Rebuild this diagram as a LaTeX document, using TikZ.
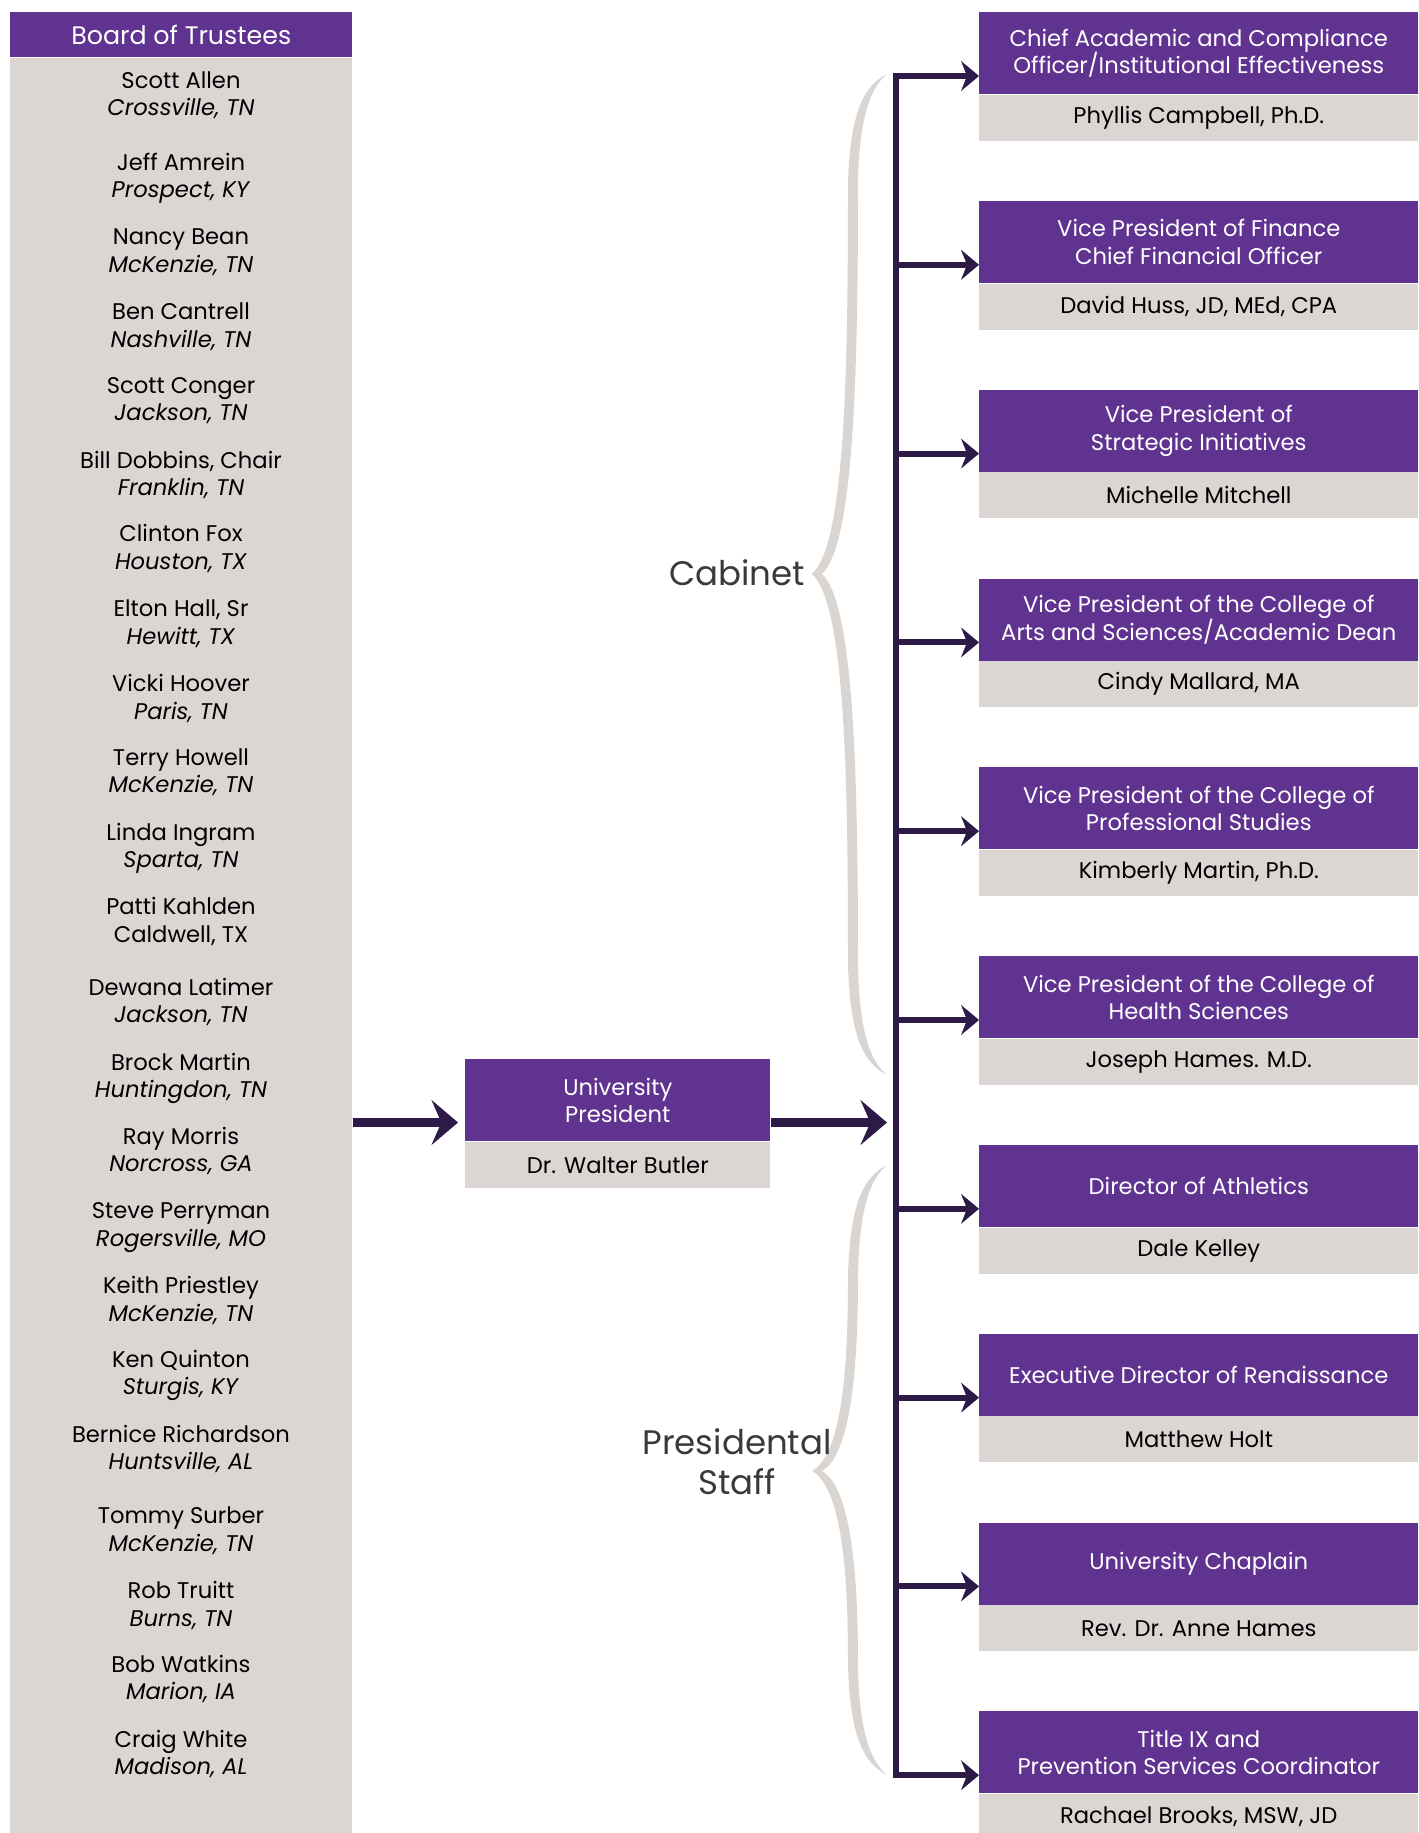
\documentclass[tikz,border=0pt]{standalone}
\usepackage{fontspec}
\setmainfont{Poppins}
\usetikzlibrary{arrows.meta,positioning}
\definecolor{trpurple}{RGB}{97,51,145}
\definecolor{trgray}{RGB}{219,214,211}
\definecolor{trdark}{RGB}{46,26,71}
\definecolor{trbrace}{RGB}{218,213,209}
\definecolor{trlabel}{RGB}{60,58,55}
\begin{document}
\begin{tikzpicture}[x=.75pt,y=-.75pt,
	officer/.style={rectangle,fill=trpurple,text=white,inner sep=0pt,align=center,minimum width=329.25pt,minimum height=61.5pt,font=\fontsize{17}{20.5}\selectfont},
	holder/.style={rectangle,fill=trgray,text=black,inner sep=0pt,minimum width=329.25pt,minimum height=34.5pt,font=\fontsize{17}{20.5}\selectfont},
	trustee/.style={anchor=base,inner sep=0pt,font=\fontsize{17}{20.5}\selectfont},
	bus/.style={draw=trdark,line width=4.5pt,line cap=rect},
	feed/.style={draw=trdark,line width=4.5pt,-{Stealth[length=13.5pt,width=22.5pt,inset=4.5pt,line width=0pt]}},
	mainfeed/.style={draw=trdark,line width=6.75pt,-{Stealth[length=20pt,width=34pt,inset=7.5pt,line width=0pt]}},
	grouplabel/.style={text=trlabel,align=center,inner sep=0pt,font=\fontsize{25.5}{30}\selectfont}]
	\useasboundingbox (0,0) rectangle (1418,1833);
	% board of trustees
	\node[officer,anchor=north west,minimum width=256.5pt,minimum height=33.75pt,font=\fontsize{19}{22}\selectfont] (board) at (10,12) {Board of Trustees};
	\node[holder,anchor=north,minimum width=256.5pt,minimum height=1340pt] (boardbody) at (board.south) {};
	\foreach \nme/\loc/\y [count=\i] in {{Scott Allen}/{\textit{Crossville, TN}}/88.4, {Jeff Amrein}/{\textit{Prospect, KY}}/170.2, {Nancy Bean}/{\textit{McKenzie, TN}}/245, {Ben Cantrell}/{\textit{Nashville, TN}}/319.8, {Scott Conger}/{\textit{Jackson, TN}}/393.5, {Bill Dobbins, Chair}/{\textit{Franklin, TN}}/468.3, {Clinton Fox}/{\textit{Houston, TX}}/541.9, {Elton Hall, Sr}/{\textit{Hewitt, TX}}/616.7, {Vicki Hoover}/{\textit{Paris, TN}}/691.6, {Terry Howell}/{\textit{McKenzie, TN}}/765.2, {Linda Ingram}/{\textit{Sparta, TN}}/840, {Patti Kahlden}/{Caldwell, TX}/914.8, {Dewana Latimer}/{\textit{Jackson, TN}}/995.5, {Brock Martin}/{\textit{Huntingdon, TN}}/1070.3, {Ray Morris}/{\textit{Norcross, GA}}/1144, {Steve Perryman}/{\textit{Rogersville, MO}}/1218.7, {Keith Priestley}/{\textit{McKenzie, TN}}/1293.6, {Ken Quinton}/{\textit{Sturgis, KY}}/1367.2, {Bernice Richardson}/{\textit{Huntsville, AL}}/1442.1, {Tommy Surber}/{\textit{McKenzie, TN}}/1523.9, {Rob Truitt}/{\textit{Burns, TN}}/1598.7, {Bob Watkins}/{\textit{Marion, IA}}/1672.4, {Craig White}/{\textit{Madison, AL}}/1747.2}{
		\node[trustee] (tn\i) at (181,\y) {\nme};
		\node[trustee] (tl\i) at (181,\y+27.4) {\loc};
	}
	% president
	\node[officer,anchor=north west,minimum width=228.75pt] (pres) at (465,1059) {University\\President};
	\node[holder,anchor=north,minimum width=228.75pt] (presname) at (pres.south) {Dr. Walter Butler};
	\coordinate (hub) at (896,1122.5);
	\draw[mainfeed] (boardbody.east |- hub) -- ([xshift=-5.25pt]pres.west |- hub);
	\draw[mainfeed] (pres.east |- hub) -- ([xshift=-6.75pt]hub);
	% cabinet and staff
	\foreach \ttl/\who [count=\i from 0] in {{Chief Academic and Compliance\\Officer/Institutional Effectiveness}/{Phyllis Campbell, Ph.D.}, {Vice President of Finance\\Chief Financial Officer}/{David Huss, JD, MEd, CPA}, {Vice President of\\Strategic Initiatives}/{Michelle Mitchell}, {Vice President of the College of\\Arts and Sciences/Academic Dean}/{Cindy Mallard, MA}, {Vice President of the College of\\Professional Studies}/{Kimberly Martin, Ph.D.}, {Vice President of the College of\\Health Sciences}/{Joseph Hames. M.D.}, {Director of Athletics}/{Dale Kelley}, {Executive Director of Renaissance}/{Matthew Holt}, {University Chaplain}/{Rev. Dr. Anne Hames}, {Title IX and\\Prevention Services Coordinator}/{Rachael Brooks, MSW, JD}}{
		\node[officer,anchor=north west] (hd\i) at (979,12+188.8*\i) {\ttl};
		\node[holder,anchor=north] (nm\i) at (hd\i.south) {\who};
		\coordinate (sp\i) at (896,12+188.8*\i+64);
	}
	\draw[bus] (sp0) -- (sp9);
	\foreach \i in {0,...,9} \draw[feed] (sp\i) -- (hd\i.west |- sp\i);
	% braces
	\foreach \t/\m/\b in {74/574/1075,1165/1471/1775}{
		\pgfmathsetmacro\la{\m-\t}
		\pgfmathsetmacro\lb{\b-\m}
		\fill[trbrace] (887,\t) .. controls (863,\t+12) and (850,\t+40) .. (848,\t+110) .. controls (848,\t+0.6*\la) and (845,\m-0.06*\la) .. (812,\m)
			.. controls (845,\m+0.06*\lb) and (848,\b-0.6*\lb) .. (848,\b-110) .. controls (850,\b-40) and (863,\b-12) .. (887,\b)
			.. controls (870,\b-14) and (859,\b-45) .. (858,\b-110) .. controls (858,\b-0.6*\lb) and (854,\m+0.06*\lb) .. (822,\m)
			.. controls (854,\m-0.06*\la) and (858,\t+0.6*\la) .. (858,\t+110) .. controls (859,\t+45) and (870,\t+14) .. (887,\t) -- cycle;
	}
	\node[grouplabel] (cabinet) at (737,573) {Cabinet};
	\node[grouplabel] (staff) at (737,1462) {Presidental\\Staff};
\end{tikzpicture}
\end{document}
